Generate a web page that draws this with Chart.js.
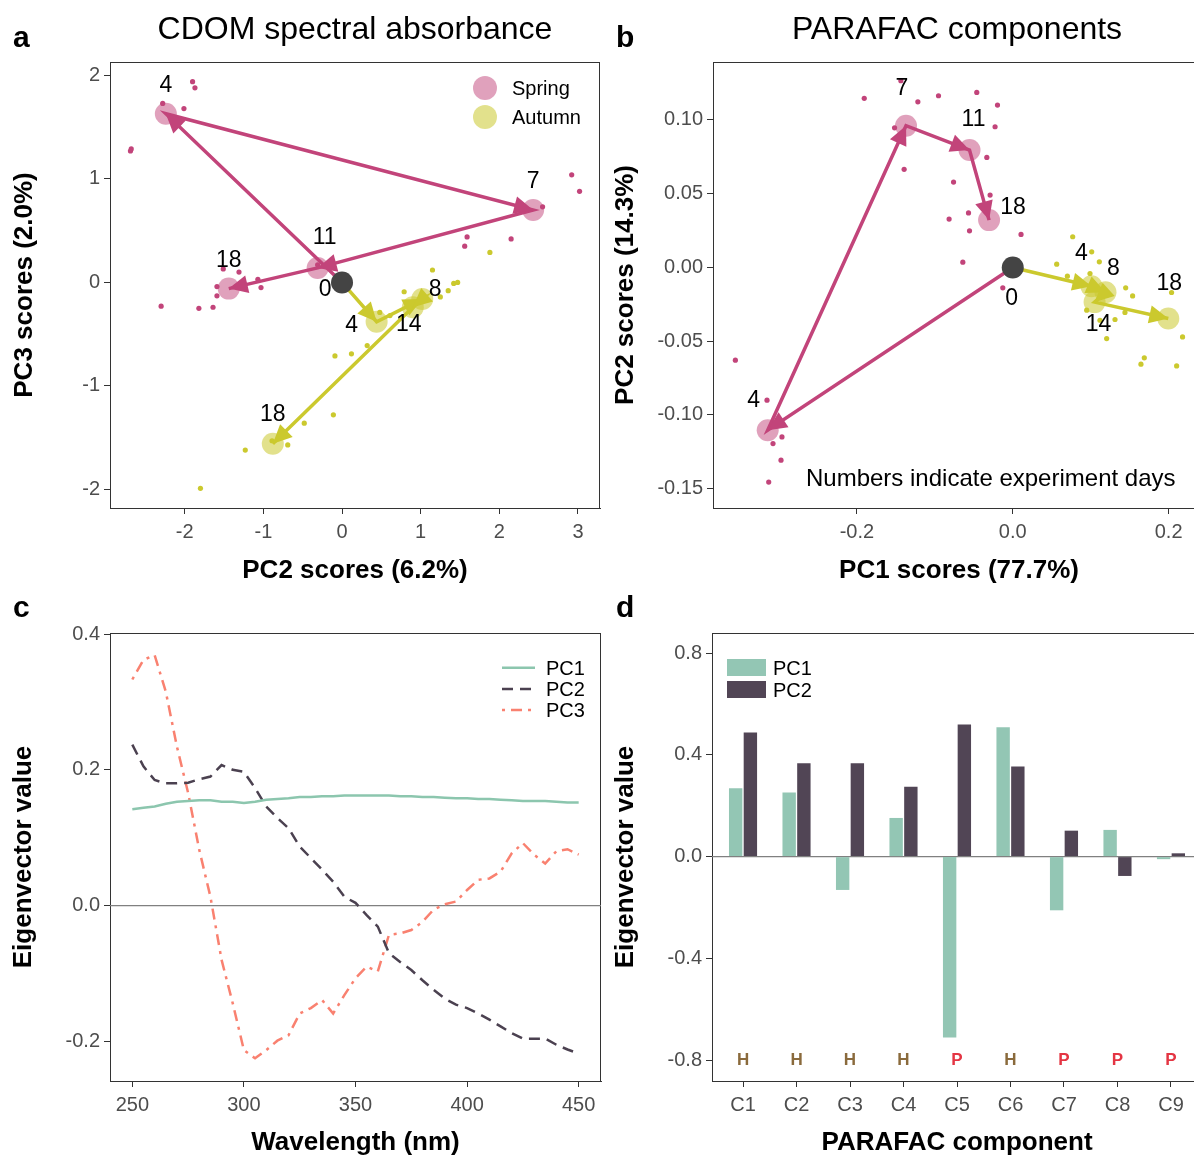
<!DOCTYPE html>
<html>
<head>
<meta charset="utf-8">
<title>CDOM and PARAFAC PCA</title>
<script src="https://cdn.jsdelivr.net/npm/chart.js@4.4.1/dist/chart.umd.min.js"></script>
<style>
  body { margin: 0; background: #fff; }
  #page { position: relative; width: 1194px; height: 1155px; overflow: hidden; font-family: "Liberation Sans", Arial, sans-serif; color: #000; }
  #page canvas { position: absolute; }
  .lbl { position: absolute; white-space: nowrap; line-height: 1; }
  .letter { font-size: 30px; font-weight: bold; }
  .head { font-size: 32px; width: 600px; text-align: center; }
  .leg { font-size: 20px; }
  .dot { position: absolute; width: 24px; height: 24px; border-radius: 50%; }
  .box { position: absolute; width: 39px; height: 17px; }
</style>
</head>
<body>
<div id="page">
  <canvas id="chartA" width="604" height="600" style="left:0;top:0"></canvas>
  <canvas id="chartB" width="604" height="600" style="left:604px;top:0"></canvas>
  <canvas id="chartC" width="604" height="555" style="left:0;top:600px"></canvas>
  <canvas id="chartD" width="604" height="555" style="left:604px;top:600px"></canvas>

  <div class="lbl letter" style="left:13px;top:22px">a</div>
  <div class="lbl letter" style="left:616px;top:22px">b</div>
  <div class="lbl letter" style="left:13px;top:592px">c</div>
  <div class="lbl letter" style="left:616px;top:592px">d</div>
  <div class="lbl head" style="left:55px;top:12px">CDOM spectral absorbance</div>
  <div class="lbl head" style="left:657px;top:12px">PARAFAC components</div>

  <!-- legend a -->
  <div class="dot" style="left:473px;top:76px;background:rgba(194,68,122,0.5)"></div>
  <div class="dot" style="left:473px;top:105px;background:rgba(203,201,46,0.55)"></div>
  <div class="lbl leg" style="left:512px;top:78px">Spring</div>
  <div class="lbl leg" style="left:512px;top:107px">Autumn</div>

  <div class="lbl" style="left:806px;top:466px;font-size:24px">Numbers indicate experiment days</div>

  <!-- legend c -->
  <svg style="position:absolute;left:500px;top:657px" width="40" height="60">
    <line x1="2" x2="35" y1="10.7" y2="10.7" stroke="#8cc6ae" stroke-width="2.5"/>
    <line x1="2" x2="35" y1="32" y2="32" stroke="#4b4150" stroke-width="2.5" stroke-dasharray="11 7"/>
    <line x1="2" x2="35" y1="53" y2="53" stroke="#f98170" stroke-width="2.5" stroke-dasharray="3 6 11 6"/>
  </svg>
  <div class="lbl leg" style="left:546px;top:658px">PC1</div>
  <div class="lbl leg" style="left:546px;top:679px">PC2</div>
  <div class="lbl leg" style="left:546px;top:700px">PC3</div>

  <!-- legend d -->
  <div class="box" style="left:727px;top:659px;background:#93c6b4"></div>
  <div class="box" style="left:727px;top:681px;background:#514555"></div>
  <div class="lbl leg" style="left:773px;top:658px">PC1</div>
  <div class="lbl leg" style="left:773px;top:680px">PC2</div>
</div>

<script>
Chart.defaults.font.family = '"Liberation Sans", Arial, sans-serif';
Chart.defaults.color = '#4d4d4d';

// a: CDOM spectral absorbance, PCA scores (centroids per day, then replicates)
const cdomSpringDays = [0, 4, 7, 11, 18];
const cdomSpringPC2 = [0, -2.24, 2.43, -0.31, -1.44];
const cdomSpringPC3 = [0, 1.63, 0.70, 0.14, -0.06];
const cdomAutumnDays = [0, 4, 8, 14, 18];
const cdomAutumnPC2 = [0, 0.44, 1.02, 0.90, -0.88];
const cdomAutumnPC3 = [0, -0.38, -0.16, -0.24, -1.56];
const cdomSpringRepPC2 = [-1.90, -1.87, -2.28, -2.01, -2.68, -2.69, 2.92, 3.02, 2.55, 1.59, 1.56, 2.15, -1.51, -1.31, -1.07, -1.03, -1.59, -1.59, -2.30, -1.82, -1.64, -0.31];
const cdomSpringRepPC3 = [1.94, 1.88, 1.73, 1.68, 1.29, 1.27, 1.04, 0.88, 0.73, 0.44, 0.35, 0.42, 0.13, 0.10, 0.03, -0.05, -0.04, -0.13, -0.23, -0.25, -0.24, 0.17];
const cdomAutumnRepPC2 = [1.88, 1.15, 1.35, 1.42, 1.47, 0.79, 0.48, 0.61, 0.32, 0.12, -0.09, -0.11, -0.48, -0.69, -0.89, -1.23, -1.80, 1.25];
const cdomAutumnRepPC3 = [0.29, 0.12, -0.08, -0.01, 0.00, -0.09, -0.29, -0.32, -0.61, -0.69, -0.71, -1.28, -1.36, -1.57, -1.53, -1.62, -1.99, -0.14];

// b: PARAFAC components, PCA scores
const pfSpringDays = [0, 4, 7, 11, 18];
const pfSpringPC1 = [0, -0.3145, -0.137, -0.0555, -0.0304];
const pfSpringPC2 = [0, -0.1104, 0.0961, 0.0796, 0.0321];
const pfAutumnDays = [0, 4, 8, 14, 18];
const pfAutumnPC1 = [0, 0.101, 0.119, 0.105, 0.1996];
const pfAutumnPC2 = [0, -0.0127, -0.0168, -0.0235, -0.0346];
const pfSpringRepPC1 = [-0.1906, -0.1436, -0.1218, -0.0953, -0.0462, -0.0196, -0.0227, -0.1517, -0.0333, -0.1394, -0.0760, -0.0291, -0.0817, -0.0568, -0.0555, 0.0106, -0.0641, -0.0128, -0.3560, -0.3154, -0.2962, -0.3077, -0.2974, -0.3132];
const pfSpringRepPC2 = [0.1147, 0.1266, 0.1123, 0.1164, 0.1187, 0.1101, 0.0954, 0.0947, 0.0746, 0.0665, 0.0579, 0.0491, 0.0328, 0.0370, 0.0248, 0.0224, 0.0036, -0.0138, -0.0629, -0.0900, -0.1149, -0.1194, -0.1307, -0.1455];
const pfAutumnRepPC1 = [0.0769, 0.1013, 0.1111, 0.0564, 0.0701, 0.0991, 0.1449, 0.1538, 0.2038, 0.1440, 0.0949, 0.1119, 0.1312, 0.1205, 0.2179, 0.1688, 0.1645, 0.2103];
const pfAutumnRepPC2 = [0.0208, 0.0106, 0.0038, 0.0022, -0.0059, -0.0041, -0.0138, -0.0193, -0.0170, -0.0305, -0.0290, -0.0358, -0.0353, -0.0482, -0.0471, -0.0613, -0.0656, -0.0668];

// c: eigenvectors of the absorbance PCA
const wavelengths = [250, 255, 260, 265, 270, 275, 280, 285, 290, 295, 300, 305, 310, 315, 320, 325, 330, 335, 340, 345, 350, 355, 360, 365, 370, 375, 380, 385, 390, 395, 400, 405, 410, 415, 420, 425, 430, 435, 440, 445, 450];
const pc1Eigen = [0.142, 0.144, 0.146, 0.150, 0.153, 0.154, 0.155, 0.155, 0.153, 0.153, 0.151, 0.153, 0.156, 0.157, 0.158, 0.160, 0.160, 0.161, 0.161, 0.162, 0.162, 0.162, 0.162, 0.162, 0.161, 0.161, 0.160, 0.160, 0.159, 0.158, 0.158, 0.157, 0.157, 0.156, 0.155, 0.154, 0.154, 0.154, 0.153, 0.152, 0.152];
const pc2Eigen = [0.237, 0.205, 0.185, 0.180, 0.180, 0.181, 0.186, 0.190, 0.207, 0.200, 0.197, 0.173, 0.146, 0.129, 0.114, 0.087, 0.070, 0.053, 0.035, 0.013, 0.004, -0.014, -0.031, -0.070, -0.083, -0.095, -0.110, -0.124, -0.137, -0.146, -0.151, -0.159, -0.168, -0.178, -0.188, -0.196, -0.196, -0.196, -0.205, -0.212, -0.218];
const pc3Eigen = [0.333, 0.362, 0.369, 0.315, 0.234, 0.166, 0.082, 0.013, -0.080, -0.144, -0.213, -0.225, -0.213, -0.199, -0.191, -0.159, -0.151, -0.139, -0.159, -0.132, -0.107, -0.090, -0.097, -0.043, -0.041, -0.036, -0.024, -0.006, 0.002, 0.006, 0.023, 0.038, 0.040, 0.050, 0.077, 0.092, 0.075, 0.062, 0.080, 0.083, 0.075];

// d: eigenvectors of the PARAFAC PCA
const components = ['C1', 'C2', 'C3', 'C4', 'C5', 'C6', 'C7', 'C8', 'C9'];
const compIndex = [1, 2, 3, 4, 5, 6, 7, 8, 9];
const pc1Loadings = [0.269, 0.252, -0.131, 0.152, -0.711, 0.509, -0.211, 0.105, -0.010];
const pc2Loadings = [0.488, 0.367, 0.367, 0.275, 0.519, 0.354, 0.102, -0.076, 0.013];
const compType = ['H', 'H', 'H', 'H', 'P', 'H', 'P', 'P', 'P'];
const compTypeLevel = -0.8;

// ticks
const ticksA_x = [-2, -1, 0, 1, 2, 3];
const ticksA_y = [-2, -1, 0, 1, 2];
const ticksB_x = [-0.2, 0, 0.2];
const ticksB_y = [-0.15, -0.10, -0.05, 0, 0.05, 0.10];
const ticksC_x = [250, 300, 350, 400, 450];
const ticksC_y = [-0.2, 0, 0.2, 0.4];
const ticksD_y = [-0.8, -0.4, 0, 0.4, 0.8];

const springColor = '#c2447a';
const autumnColor = '#cbc92e';
const springFill = 'rgba(194,68,122,0.5)';
const autumnFill = 'rgba(203,201,46,0.55)';

function pts(xs, ys) {
    return xs.map((x, i) => ({ x: x, y: ys[i] }));
}

function makeScale(min, max, ticks, fmt, title, size, isX, titlePad) {
    return {
        type: 'linear',
        min: min,
        max: max,
        bounds: 'data',
        offset: false,
        afterBuildTicks: s => { s.ticks = ticks.map(v => ({ value: v })); },
        afterFit: s => { if (isX) s.height = size; else s.width = size; },
        grid: { drawOnChartArea: false, drawTicks: true, tickLength: 6, color: '#333', offset: false },
        border: { display: true, color: '#333', width: 1 },
        ticks: { font: { size: 20 }, color: '#4d4d4d', padding: isX ? 6 : 4, autoSkip: false, maxRotation: 0, callback: v => fmt(v) },
        title: { display: true, text: title, color: '#000', font: { size: 26, weight: 'bold' }, padding: titlePad }
    };
}

// top and right sides of the panel box
const framePlugin = {
    id: 'frame',
    beforeDatasetsDraw(chart) {
        const a = chart.chartArea;
        const ctx = chart.ctx;
        ctx.save();
        ctx.strokeStyle = '#333';
        ctx.lineWidth = 1;
        ctx.beginPath();
        ctx.moveTo(a.left, Math.round(a.top) + 0.5);
        ctx.lineTo(a.right, Math.round(a.top) + 0.5);
        ctx.moveTo(Math.round(a.right) - 0.5, a.top);
        ctx.lineTo(Math.round(a.right) - 0.5, a.bottom);
        ctx.stroke();
        ctx.restore();
    }
};

function zeroLine(color) {
    return {
        id: 'zeroLine',
        beforeDatasetsDraw(chart) {
            const { ctx, chartArea: a, scales: { y } } = chart;
            const py = y.getPixelForValue(0);
            ctx.save();
            ctx.strokeStyle = color;
            ctx.lineWidth = 1.3;
            ctx.beginPath();
            ctx.moveTo(a.left, py);
            ctx.lineTo(a.right, py);
            ctx.stroke();
            ctx.restore();
        }
    };
}

// arrowheads at the end of every path segment
const arrowPlugin = {
    id: 'arrowHeads',
    afterDatasetDraw(chart, args) {
        const ds = chart.data.datasets[args.index];
        if (!ds.arrows) return;
        const p = args.meta.data;
        const ctx = chart.ctx;
        const L = 19, W = 9;
        ctx.save();
        ctx.fillStyle = ds.borderColor;
        for (let k = 1; k < p.length; k++) {
            const ang = Math.atan2(p[k].y - p[k - 1].y, p[k].x - p[k - 1].x);
            const c = Math.cos(ang), s = Math.sin(ang);
            ctx.beginPath();
            ctx.moveTo(p[k].x, p[k].y);
            ctx.lineTo(p[k].x - L * c + W * s, p[k].y - L * s - W * c);
            ctx.lineTo(p[k].x - L * c - W * s, p[k].y - L * s + W * c);
            ctx.closePath();
            ctx.fill();
        }
        ctx.restore();
    }
};

const dayLabelPlugin = {
    id: 'dayLabels',
    afterDatasetsDraw(chart) {
        const ctx = chart.ctx;
        ctx.save();
        ctx.font = '23px "Liberation Sans", Arial, sans-serif';
        ctx.fillStyle = '#000';
        ctx.textAlign = 'center';
        ctx.textBaseline = 'middle';
        chart.data.datasets.forEach((ds, i) => {
            if (!ds.dayLabels) return;
            chart.getDatasetMeta(i).data.forEach((p, k) => {
                const off = ds.labelOffsets[k];
                if (!off) return;
                ctx.fillText(String(ds.dayLabels[k]), p.x + off[0], p.y + off[1]);
            });
        });
        ctx.restore();
    }
};

function scoreDatasets(s, a) {
    return [
        { data: pts(s.repX, s.repY), pointRadius: 2.6, backgroundColor: springColor, borderWidth: 0, order: 4 },
        { data: pts(a.repX, a.repY), pointRadius: 2.6, backgroundColor: autumnColor, borderWidth: 0, order: 4 },
        { data: pts(s.x.slice(1), s.y.slice(1)), pointRadius: 11, backgroundColor: springFill, borderWidth: 0, order: 3 },
        { data: pts(a.x.slice(1), a.y.slice(1)), pointRadius: 11, backgroundColor: autumnFill, borderWidth: 0, order: 3 },
        { data: pts(s.x, s.y), showLine: true, pointRadius: 0, borderColor: springColor, borderWidth: 3.5,
          arrows: true, dayLabels: s.days, labelOffsets: s.offsets, order: 2 },
        { data: pts(a.x, a.y), showLine: true, pointRadius: 0, borderColor: autumnColor, borderWidth: 3.5,
          arrows: true, dayLabels: a.days, labelOffsets: a.offsets, order: 2 },
        { data: [{ x: s.x[0], y: s.y[0] }], pointRadius: 11, backgroundColor: '#444444', borderWidth: 0, order: 1 }
    ];
}

const baseOptions = {
    responsive: false,
    animation: false,
    events: [],
    plugins: { legend: { display: false }, tooltip: { enabled: false } }
};

// ---- a ----
new Chart(document.getElementById('chartA'), {
    type: 'scatter',
    data: {
        datasets: scoreDatasets(
            { x: cdomSpringPC2, y: cdomSpringPC3, repX: cdomSpringRepPC2, repY: cdomSpringRepPC3, days: cdomSpringDays,
              offsets: [[-17, 7], [0, -28], [0, -28], [7, -30], [0, -28]] },
            { x: cdomAutumnPC2, y: cdomAutumnPC3, repX: cdomAutumnRepPC2, repY: cdomAutumnRepPC3, days: cdomAutumnDays,
              offsets: [null, [-25, 4], [13, -9], [-4, 17], [0, -29]] })
    },
    options: Object.assign({}, baseOptions, {
        layout: { autoPadding: false, padding: { top: 62, right: 4, left: 0, bottom: 0 } },
        scales: {
            x: makeScale(-2.95, 3.28, ticksA_x, v => String(v), 'PC2 scores (6.2%)', 92, true, { top: 0, bottom: 14 }),
            y: makeScale(-2.18, 2.13, ticksA_y, v => String(v), 'PC3 scores (2.0%)', 110, false, { top: 9, bottom: 0 })
        }
    }),
    plugins: [framePlugin, arrowPlugin, dayLabelPlugin]
});

// ---- b ----
new Chart(document.getElementById('chartB'), {
    type: 'scatter',
    data: {
        datasets: scoreDatasets(
            { x: pfSpringPC1, y: pfSpringPC2, repX: pfSpringRepPC1, repY: pfSpringRepPC2, days: pfSpringDays,
              offsets: [[-1, 31], [-14, -30], [-4, -37], [4, -30], [24, -12]] },
            { x: pfAutumnPC1, y: pfAutumnPC2, repX: pfAutumnRepPC1, repY: pfAutumnRepPC2, days: pfAutumnDays,
              offsets: [null, [-10, -33], [8, -24], [4, 23], [1, -35]] })
    },
    options: Object.assign({}, baseOptions, {
        layout: { autoPadding: false, padding: { top: 62, right: 3, left: 0, bottom: 0 } },
        scales: {
            x: makeScale(-0.3847, 0.2467, ticksB_x, v => v.toFixed(1), 'PC1 scores (77.7%)', 92, true, { top: 0, bottom: 14 }),
            y: makeScale(-0.1631, 0.1393, ticksB_y, v => v.toFixed(2), 'PC2 scores (14.3%)', 109, false, { top: 6, bottom: 0 })
        }
    }),
    plugins: [framePlugin, arrowPlugin, dayLabelPlugin]
});

// ---- c ----
new Chart(document.getElementById('chartC'), {
    type: 'line',
    data: {
        datasets: [
            { label: 'PC1', data: pts(wavelengths, pc1Eigen), borderColor: '#8cc6ae', borderWidth: 2.5, pointRadius: 0, tension: 0 },
            { label: 'PC2', data: pts(wavelengths, pc2Eigen), borderColor: '#4b4150', borderWidth: 2.5, pointRadius: 0, borderDash: [11, 7], tension: 0 },
            { label: 'PC3', data: pts(wavelengths, pc3Eigen), borderColor: '#f98170', borderWidth: 2.5, pointRadius: 0, borderDash: [3, 6, 11, 6], tension: 0 }
        ]
    },
    options: Object.assign({}, baseOptions, {
        layout: { autoPadding: false, padding: { top: 33, right: 3, left: 0, bottom: 0 } },
        scales: {
            x: makeScale(240, 460, ticksC_x, v => String(v), 'Wavelength (nm)', 74, true, { top: 0, bottom: -3 }),
            y: makeScale(-0.2584, 0.4015, ticksC_y, v => v.toFixed(1), 'Eigenvector value', 110, false, { top: 8, bottom: 0 })
        }
    }),
    plugins: [framePlugin, zeroLine('#808080')]
});

// ---- d ----
const typeLetterPlugin = {
    id: 'typeLetters',
    afterDatasetsDraw(chart) {
        const { ctx, scales: { x, y } } = chart;
        ctx.save();
        ctx.font = 'bold 17px "Liberation Sans", Arial, sans-serif';
        ctx.textAlign = 'center';
        ctx.textBaseline = 'middle';
        compType.forEach((t, i) => {
            ctx.fillStyle = t === 'H' ? '#8a6a3c' : '#e43543';
            ctx.fillText(t, x.getPixelForValue(compIndex[i]), y.getPixelForValue(compTypeLevel));
        });
        ctx.restore();
    }
};

new Chart(document.getElementById('chartD'), {
    type: 'bar',
    data: {
        datasets: [
            { label: 'PC1', data: pts(compIndex, pc1Loadings), backgroundColor: '#93c6b4', categoryPercentage: 0.55, barPercentage: 0.91 },
            { label: 'PC2', data: pts(compIndex, pc2Loadings), backgroundColor: '#514555', categoryPercentage: 0.55, barPercentage: 0.91 }
        ]
    },
    options: Object.assign({}, baseOptions, {
        layout: { autoPadding: false, padding: { top: 33, right: 6, left: 0, bottom: 0 } },
        scales: {
            x: makeScale(0.42, 9.58, compIndex, v => components[v - 1], 'PARAFAC component', 74, true, { top: 0, bottom: -3 }),
            y: makeScale(-0.882, 0.879, ticksD_y, v => v.toFixed(1), 'Eigenvector value', 108, false, { top: 6, bottom: 0 })
        }
    }),
    plugins: [framePlugin, zeroLine('#808080'), typeLetterPlugin]
});
</script>
</body>
</html>
